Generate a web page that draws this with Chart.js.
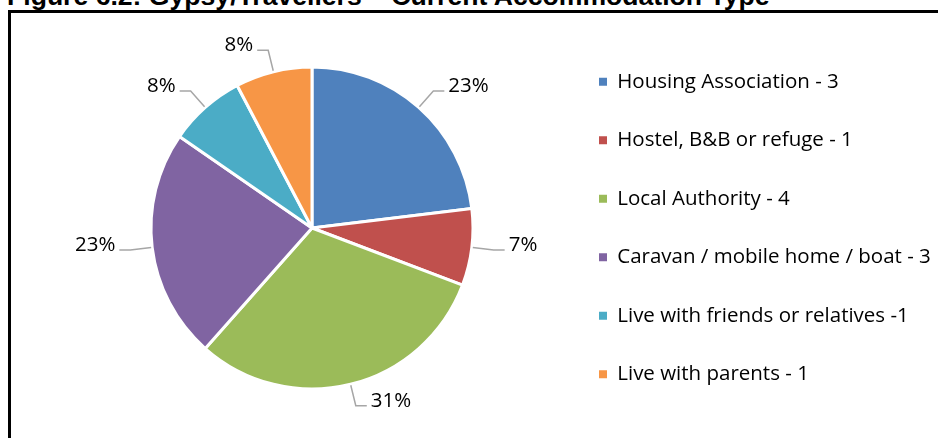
<!DOCTYPE html>
<html>
<head>
<meta charset="utf-8">
<script src="https://cdn.jsdelivr.net/npm/chart.js@4"></script>
<style>
  html, body { margin: 0; padding: 0; background: #fff; overflow: hidden; }
  #wrap { position: relative; width: 938px; height: 438px; overflow: hidden; }
  #title {
    position: absolute; left: 7px; top: -17px; white-space: nowrap;
    font: bold 26.6px/26px "Liberation Sans", Arial, sans-serif; color: #000;
  }
  #frame {
    position: absolute; left: 8px; top: 10px; width: 1000px; height: 1000px;
    border: 3px solid #000;
  }
  #chart { position: absolute; left: 0; top: 0; }
</style>
</head>
<body>
<div id="wrap">
  <div id="title">Figure 6.2: Gypsy/Travellers – Current Accommodation Type</div>
  <div id="frame"></div>
  <canvas id="chart" width="938" height="438"></canvas>
</div>
<script>
var categories = [
    'Housing Association - 3',
    'Hostel, B&B or refuge - 1',
    'Local Authority - 4',
    'Caravan / mobile home / boat - 3',
    'Live with friends or relatives -1',
    'Live with parents - 1'
];
var counts = [3, 1, 4, 3, 1, 1];
var percentLabels = ['23%', '7%', '31%', '23%', '8%', '8%'];
var sliceColours = ['#4F81BD', '#C0504D', '#9BBB59', '#8064A2', '#4BACC6', '#F79646'];

Chart.defaults.font.family = '"Open Sans", sans-serif';
Chart.defaults.color = '#000';

// percentage labels with elbow leader lines, placed off each arc
var outsideLabels = {
    id: 'outsideLabels',
    afterDatasetsDraw: function (chart) {
        var ctx = chart.ctx;
        var meta = chart.getDatasetMeta(0);
        ctx.save();
        ctx.font = '20.5px "Open Sans", sans-serif';
        meta.data.forEach(function (arc, i) {
            var p = arc.getProps(['x', 'y', 'startAngle', 'endAngle', 'outerRadius'], true);
            var mid = (p.startAngle + p.endAngle) / 2;
            var cx = Math.cos(mid), cy = Math.sin(mid);
            var side = cx >= 0 ? 1 : -1;
            var x0 = p.x + cx * (p.outerRadius + 1), y0 = p.y + cy * (p.outerRadius + 1);
            var x1 = p.x + cx * (p.outerRadius + 22), y1 = p.y + cy * (p.outerRadius + 22);
            var x2 = x1 + side * 11;
            ctx.strokeStyle = '#A6A6A6';
            ctx.lineWidth = 1.5;
            ctx.beginPath();
            ctx.moveTo(x0, y0);
            ctx.lineTo(x1, y1);
            ctx.lineTo(x2, y1);
            ctx.stroke();
            ctx.fillStyle = '#000';
            ctx.textAlign = side > 0 ? 'left' : 'right';
            ctx.textBaseline = 'alphabetic';
            ctx.fillText(percentLabels[i], x2 + side * 4, y1 + 1);
        });
        ctx.restore();
    }
};

// fixed legend width so the pie sits left of it
var legendWidth = {
    id: 'legendWidth',
    beforeInit: function (chart) {
        var origFit = chart.legend.fit;
        chart.legend.fit = function () {
            origFit.call(this);
            this.width = 377;
        };
    }
};

var ctx = document.getElementById('chart').getContext('2d');
var chart = new Chart(ctx, {
    type: 'pie',
    data: {
        labels: categories,
        datasets: [{
            data: counts,
            backgroundColor: sliceColours,
            borderColor: '#fff',
            borderWidth: 3,
            radius: 161
        }]
    },
    options: {
        responsive: false,
        animation: false,
        layout: { padding: { left: 63, top: 18, right: 0, bottom: 0 } },
        plugins: {
            tooltip: { enabled: false },
            legend: {
                position: 'right',
                labels: {
                    boxWidth: 8,
                    boxHeight: 8,
                    padding: 38,
                    font: { size: 20.5 },
                    color: '#000',
                    generateLabels: function (chart) {
                        var items = Chart.controllers.pie.overrides.plugins.legend.labels.generateLabels(chart);
                        items.forEach(function (it) { it.lineWidth = 0; });
                        return items;
                    }
                }
            }
        }
    },
    plugins: [outsideLabels, legendWidth]
});
</script>
</body>
</html>
